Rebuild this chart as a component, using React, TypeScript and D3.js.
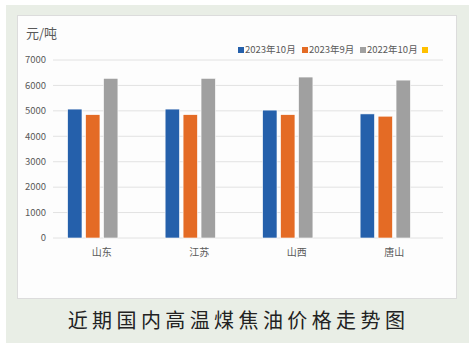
import React from "react";
import * as d3 from "d3";

const categories = ["山东", "江苏", "山西", "唐山"];
const seriesNames = ["2023年10月", "2023年9月", "2022年10月", ""];
const seriesColors = ["#2560ab", "#e46b25", "#a0a0a0", "#ffc000"];
const s2023Oct = [5070, 5070, 5030, 4880];
const s2023Sep = [4850, 4850, 4850, 4790];
const s2022Oct = [6280, 6280, 6330, 6210];
const s4: number[] = [];
const yTicks = [0, 1000, 2000, 3000, 4000, 5000, 6000, 7000];
const title = "近期国内高温煤焦油价格走势图";
const unit = "元/吨";

const series = [s2023Oct, s2023Sep, s2022Oct, s4];

export default function App() {
  const W = 474, H = 357;
  const left = 53, right = 443, top = 60, bottom = 238;
  const y = d3.scaleLinear().domain([0, 7000]).range([bottom, top]);
  const x0 = d3.scaleBand<string>().domain(categories).range([left, right]).paddingInner(0.3).paddingOuter(0.15);
  const x1 = d3.scaleBand<number>().domain([0, 1, 2, 3]).range([0, x0.bandwidth()]).paddingInner(0.2).paddingOuter(0);
  const font = "'Microsoft YaHei','Noto Sans CJK SC',sans-serif";
  const legendX = [238, 302, 360, 422];
  return (
    <svg width={W} height={H} style={{ position: "absolute", left: 0, top: 0 }} fontFamily={font}>
      <rect x={0} y={0} width={W} height={H} fill="#ffffff" />
      <rect x={6} y={5} width={463} height={338} fill="#e9eee6" />
      <rect x={17.5} y={15.5} width={439} height={283} fill="#fdfdfd" stroke="#dcdcdc" />
      <text x={26} y={38} fontSize={13} fill="#595959">{unit}</text>
      {yTicks.map((t) => (
        <g key={t}>
          <line x1={left} x2={right} y1={y(t)} y2={y(t)} stroke="#e2e2e2" strokeWidth={1} />
          <text x={46} y={y(t)} dy="0.35em" textAnchor="end" fontSize={9.5} fill="#595959">{t}</text>
        </g>
      ))}
      {categories.map((c, i) => (
        <g key={c}>
          {series.map((s, j) =>
            s.length ? (
              <rect key={j} x={(x0(c) as number) + (x1(j) as number)} y={y(s[i])} width={x1.bandwidth()} height={bottom - y(s[i])} fill={seriesColors[j]} stroke="#ffffff" strokeWidth={0.6} />
            ) : null
          )}
          <text x={(x0(c) as number) + x0.bandwidth() / 2} y={252} dy="0.35em" textAnchor="middle" fontSize={10} fill="#595959">{c}</text>
        </g>
      ))}
      {seriesNames.map((n, j) => (
        <g key={j}>
          <rect x={legendX[j]} y={47} width={6} height={6} fill={seriesColors[j]} />
          <text x={legendX[j] + 7} y={50} dy="0.35em" fontSize={9.5} fill="#595959">{n}</text>
        </g>
      ))}
      <text x={238.5} y={321} dy="0.35em" textAnchor="middle" fontSize={20} letterSpacing={4.4} fill="#222222">{title}</text>
    </svg>
  );
}
